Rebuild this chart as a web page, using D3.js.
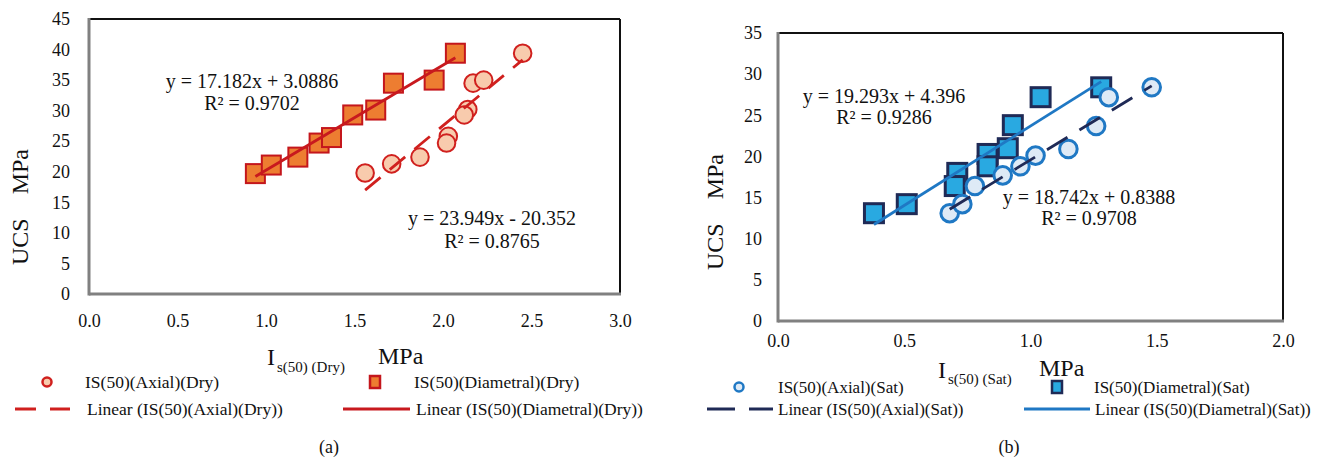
<!DOCTYPE html>
<html><head><meta charset="utf-8">
<script src="https://cdn.jsdelivr.net/npm/d3@7"></script>
<style>body{margin:0;background:#fff}svg{display:block;font-family:"Liberation Serif","Times New Roman",serif}</style>
</head><body>
<svg id="c" width="1329" height="461"></svg>
<script>
// ---------- DATA ----------
// Panel (a) – Dry
const dryDiaX = [0.94, 1.03, 1.18, 1.30, 1.37, 1.49, 1.62, 1.72, 1.95, 2.07];
const dryDiaY = [19.7, 21.1, 22.4, 24.7, 25.6, 29.3, 30.1, 34.5, 35.0, 39.4];
const dryAxX  = [1.56, 1.71, 1.87, 2.03, 2.02, 2.14, 2.12, 2.17, 2.23, 2.45];
const dryAxY  = [19.8, 21.3, 22.4, 25.8, 24.7, 30.2, 29.3, 34.5, 35.0, 39.4];
// Panel (b) – Saturated
const satDiaX = [0.38, 0.51, 0.71, 0.70, 0.83, 0.83, 0.91, 0.93, 1.04, 1.28];
const satDiaY = [13.1, 14.2, 18.0, 16.4, 20.3, 18.8, 21.0, 23.8, 27.2, 28.4];
const satAxX  = [0.68, 0.73, 0.78, 0.89, 0.96, 1.02, 1.15, 1.26, 1.31, 1.48];
const satAxY  = [13.1, 14.2, 16.4, 17.7, 18.8, 20.1, 20.9, 23.7, 27.2, 28.4];
// Trend line coefficients [slope, intercept]
const trendDryDia = [17.182, 3.0886];
const trendDryAx  = [23.949, -20.352];
const trendSatDia = [19.293, 4.396];
const trendSatAx  = [18.742, 0.8388];
// Equation labels
const eqDryDia = ["y = 17.182x + 3.0886", "R² = 0.9702"];
const eqDryAx  = ["y = 23.949x - 20.352", "R² = 0.8765"];
const eqSatDia = ["y = 19.293x + 4.396", "R² = 0.9286"];
const eqSatAx  = ["y = 18.742x + 0.8388", "R² = 0.9708"];
// Ticks
const xTicksA = [0, 0.5, 1.0, 1.5, 2.0, 2.5, 3.0];
const yTicksA = [0, 5, 10, 15, 20, 25, 30, 35, 40, 45];
const xTicksB = [0, 0.5, 1.0, 1.5, 2.0];
const yTicksB = [0, 5, 10, 15, 20, 25, 30, 35];
// Legend labels
const legendA = ["IS(50)(Axial)(Dry)", "IS(50)(Diametral)(Dry)", "Linear (IS(50)(Axial)(Dry))", "Linear (IS(50)(Diametral)(Dry))"];
const legendB = ["IS(50)(Axial)(Sat)", "IS(50)(Diametral)(Sat)", "Linear (IS(50)(Axial)(Sat))", "Linear (IS(50)(Diametral)(Sat))"];

const svg = d3.select("#c");

function panel(cfg) {
  const g = svg.append("g");
  const x = d3.scaleLinear().domain(cfg.xDom).range(cfg.xRange);
  const y = d3.scaleLinear().domain(cfg.yDom).range(cfg.yRange);
  const [x0, x1] = cfg.xRange, [y0, y1] = cfg.yRange; // y0 bottom, y1 top

  // frame
  g.append("line").attr("x1", x0).attr("x2", x1).attr("y1", y1).attr("y2", y1).attr("stroke", "#111").attr("stroke-width", 2);
  g.append("line").attr("x1", x1).attr("x2", x1).attr("y1", y1).attr("y2", y0).attr("stroke", "#111").attr("stroke-width", 2);
  g.append("line").attr("x1", x0).attr("x2", x0).attr("y1", y1 - 1).attr("y2", y0 + 1.5).attr("stroke", "#808080").attr("stroke-width", 3);
  g.append("line").attr("x1", x0).attr("x2", x1 + 1).attr("y1", y0).attr("y2", y0).attr("stroke", "#808080").attr("stroke-width", 3);

  // axes (labels only)
  const ax = g.append("g").attr("transform", `translate(0,${cfg.xLabelY})`)
    .call(d3.axisBottom(x).tickValues(cfg.xTicks).tickFormat(d3.format(".1f")).tickSize(0).tickPadding(0));
  ax.select(".domain").remove();
  ax.selectAll("text").attr("font-size", 18).attr("font-family", "Liberation Serif").attr("fill", "#111").attr("dy", "0.35em");
  const ay = g.append("g").attr("transform", `translate(${cfg.yLabelX},0)`)
    .call(d3.axisLeft(y).tickValues(cfg.yTicks).tickFormat(d3.format("d")).tickSize(0).tickPadding(0));
  ay.select(".domain").remove();
  ay.selectAll("text").attr("font-size", 18).attr("font-family", "Liberation Serif").attr("fill", "#111");

  // trend lines
  function trend(xs, coef, color, dash) {
    const xa = d3.min(xs), xb = d3.max(xs);
    g.append("line")
      .attr("x1", x(xa)).attr("y1", y(coef[0] * xa + coef[1]))
      .attr("x2", x(xb)).attr("y2", y(coef[0] * xb + coef[1]))
      .attr("stroke", color).attr("stroke-width", 2.8)
      .attr("stroke-dasharray", dash || null);
  }
  // markers
  const sq = cfg.sq;
  g.selectAll(".sq").data(cfg.diaX.map((d, i) => [d, cfg.diaY[i]])).join("rect")
    .attr("x", d => x(d[0]) - sq / 2).attr("y", d => y(d[1]) - sq / 2)
    .attr("width", sq).attr("height", sq)
    .attr("fill", cfg.sqFill).attr("stroke", cfg.sqStroke).attr("stroke-width", cfg.sqSW);
  g.selectAll(".ci").data(cfg.axX.map((d, i) => [d, cfg.axY[i]])).join("circle")
    .attr("cx", d => x(d[0])).attr("cy", d => y(d[1])).attr("r", cfg.r)
    .attr("fill", cfg.ciFill).attr("stroke", cfg.ciStroke).attr("stroke-width", cfg.ciSW);
  trend(cfg.diaX, cfg.trDia, cfg.diaLine);
  trend(cfg.axX, cfg.trAx, cfg.axLine, cfg.dash);

  // equations
  function eq(lines, cx, cy1, cy2) {
    [cy1, cy2].forEach((cy, i) => g.append("text").attr("x", cx).attr("y", cy).attr("dy", "0.35em")
      .attr("text-anchor", "middle").attr("font-size", 20).attr("fill", "#111").text(lines[i]));
  }
  eq(cfg.eqDia, cfg.eqDiaPos[0], cfg.eqDiaPos[1], cfg.eqDiaPos[2]);
  eq(cfg.eqAx, cfg.eqAxPos[0], cfg.eqAxPos[1], cfg.eqAxPos[2]);

  // y axis title
  g.append("text").attr("transform", `translate(${cfg.yTitle[0]},${cfg.yTitle[1]}) rotate(-90)`)
    .attr("text-anchor", "middle").attr("dy", "0.35em").attr("font-size", 24).attr("fill", "#111")
    .attr("xml:space", "preserve").style("white-space", "pre").text("UCS    MPa");

  // x axis title
  const t = cfg.xTitle;
  g.append("text").attr("x", t.ix).attr("y", t.iy).attr("font-size", 24).attr("fill", "#111").text("I");
  g.append("text").attr("x", t.sx).attr("y", t.sy).attr("font-size", 15).attr("fill", "#111").text(t.sub);
  g.append("text").attr("x", t.mx).attr("y", t.my).attr("font-size", 24).attr("fill", "#111").text("MPa");

  // legend
  const L = cfg.leg, fs = cfg.legFs;
  g.append("circle").attr("cx", L.c[0]).attr("cy", L.r1).attr("r", 4.5).attr("fill", cfg.ciFill).attr("stroke", cfg.ciStroke).attr("stroke-width", 2.5);
  g.append("rect").attr("x", L.s[0] - 5).attr("y", L.r1 - 6).attr("width", 10).attr("height", 12).attr("fill", cfg.sqFill).attr("stroke", cfg.sqStroke).attr("stroke-width", 2.5);
  g.append("line").attr("x1", L.d[0]).attr("x2", L.d[1]).attr("y1", L.r2).attr("y2", L.r2).attr("stroke", cfg.axLine).attr("stroke-width", 3).attr("stroke-dasharray", L.legDash);
  g.append("line").attr("x1", L.l[0]).attr("x2", L.l[1]).attr("y1", L.r2).attr("y2", L.r2).attr("stroke", cfg.diaLine).attr("stroke-width", 3);
  const lt = [[L.t[0], L.r1], [L.t[1], L.r1], [L.t[2], L.r2], [L.t[3], L.r2]];
  lt.forEach((p, i) => g.append("text").attr("x", p[0]).attr("y", p[1]).attr("dy", "0.35em").attr("font-size", fs).attr("fill", "#111").text(cfg.legendText[i]));

  // caption
  g.append("text").attr("x", cfg.cap[0]).attr("y", cfg.cap[1]).attr("dy", "0.35em").attr("text-anchor", "middle").attr("font-size", 18).attr("fill", "#111").text(cfg.capText);
}

panel({
  xDom: [0, 3], yDom: [0, 45], xRange: [89, 620], yRange: [294, 19],
  xTicks: xTicksA, yTicks: yTicksA, xLabelY: 321, yLabelX: 70,
  diaX: dryDiaX, diaY: dryDiaY, axX: dryAxX, axY: dryAxY,
  sq: 19, sqFill: "#ED7D31", sqStroke: "#C4161C", sqSW: 2,
  r: 8.8, ciFill: "#F8CBAD", ciStroke: "#D0201E", ciSW: 2,
  trDia: trendDryDia, trAx: trendDryAx, diaLine: "#C8191E", axLine: "#D0201E", dash: "20,12",
  eqDia: eqDryDia, eqDiaPos: [252, 81, 103], eqAx: eqDryAx, eqAxPos: [492, 218, 241],
  yTitle: [20, 207],
  xTitle: { ix: 267, iy: 365, sx: 277, sy: 372, sub: "s(50) (Dry)", mx: 378, my: 364 },
  leg: { r1: 382, r2: 409, c: [47], s: [375], d: [15, 70], l: [343, 410], t: [85, 414, 87, 416], legDash: "21,14" },
  legFs: 17.5, legendText: legendA,
  cap: [329, 447], capText: "(a)"
});

panel({
  xDom: [0, 2], yDom: [0, 35], xRange: [778, 1283], yRange: [321, 33],
  xTicks: xTicksB, yTicks: yTicksB, xLabelY: 341, yLabelX: 762,
  diaX: satDiaX, diaY: satDiaY, axX: satAxX, axY: satAxY,
  sq: 19, sqFill: "#29A9E1", sqStroke: "#1F2A56", sqSW: 3,
  r: 8.8, ciFill: "#DEEAF6", ciStroke: "#1F78C4", ciSW: 3,
  trDia: trendSatDia, trAx: trendSatAx, diaLine: "#1F78C4", axLine: "#1F2A56", dash: "24,14",
  eqDia: eqSatDia, eqDiaPos: [884, 96, 117], eqAx: eqSatAx, eqAxPos: [1089, 197, 218],
  yTitle: [715, 212],
  xTitle: { ix: 938, iy: 378, sx: 948, sy: 384, sub: "s(50) (Sat)", mx: 1039, my: 376 },
  leg: { r1: 387, r2: 409, c: [739], s: [1057], d: [707, 773], l: [1024, 1090], t: [778, 1094, 778, 1095], legDash: "28,14" },
  legFs: 17, legendText: legendB,
  cap: [1009, 447], capText: "(b)"
});
</script>
</body></html>
